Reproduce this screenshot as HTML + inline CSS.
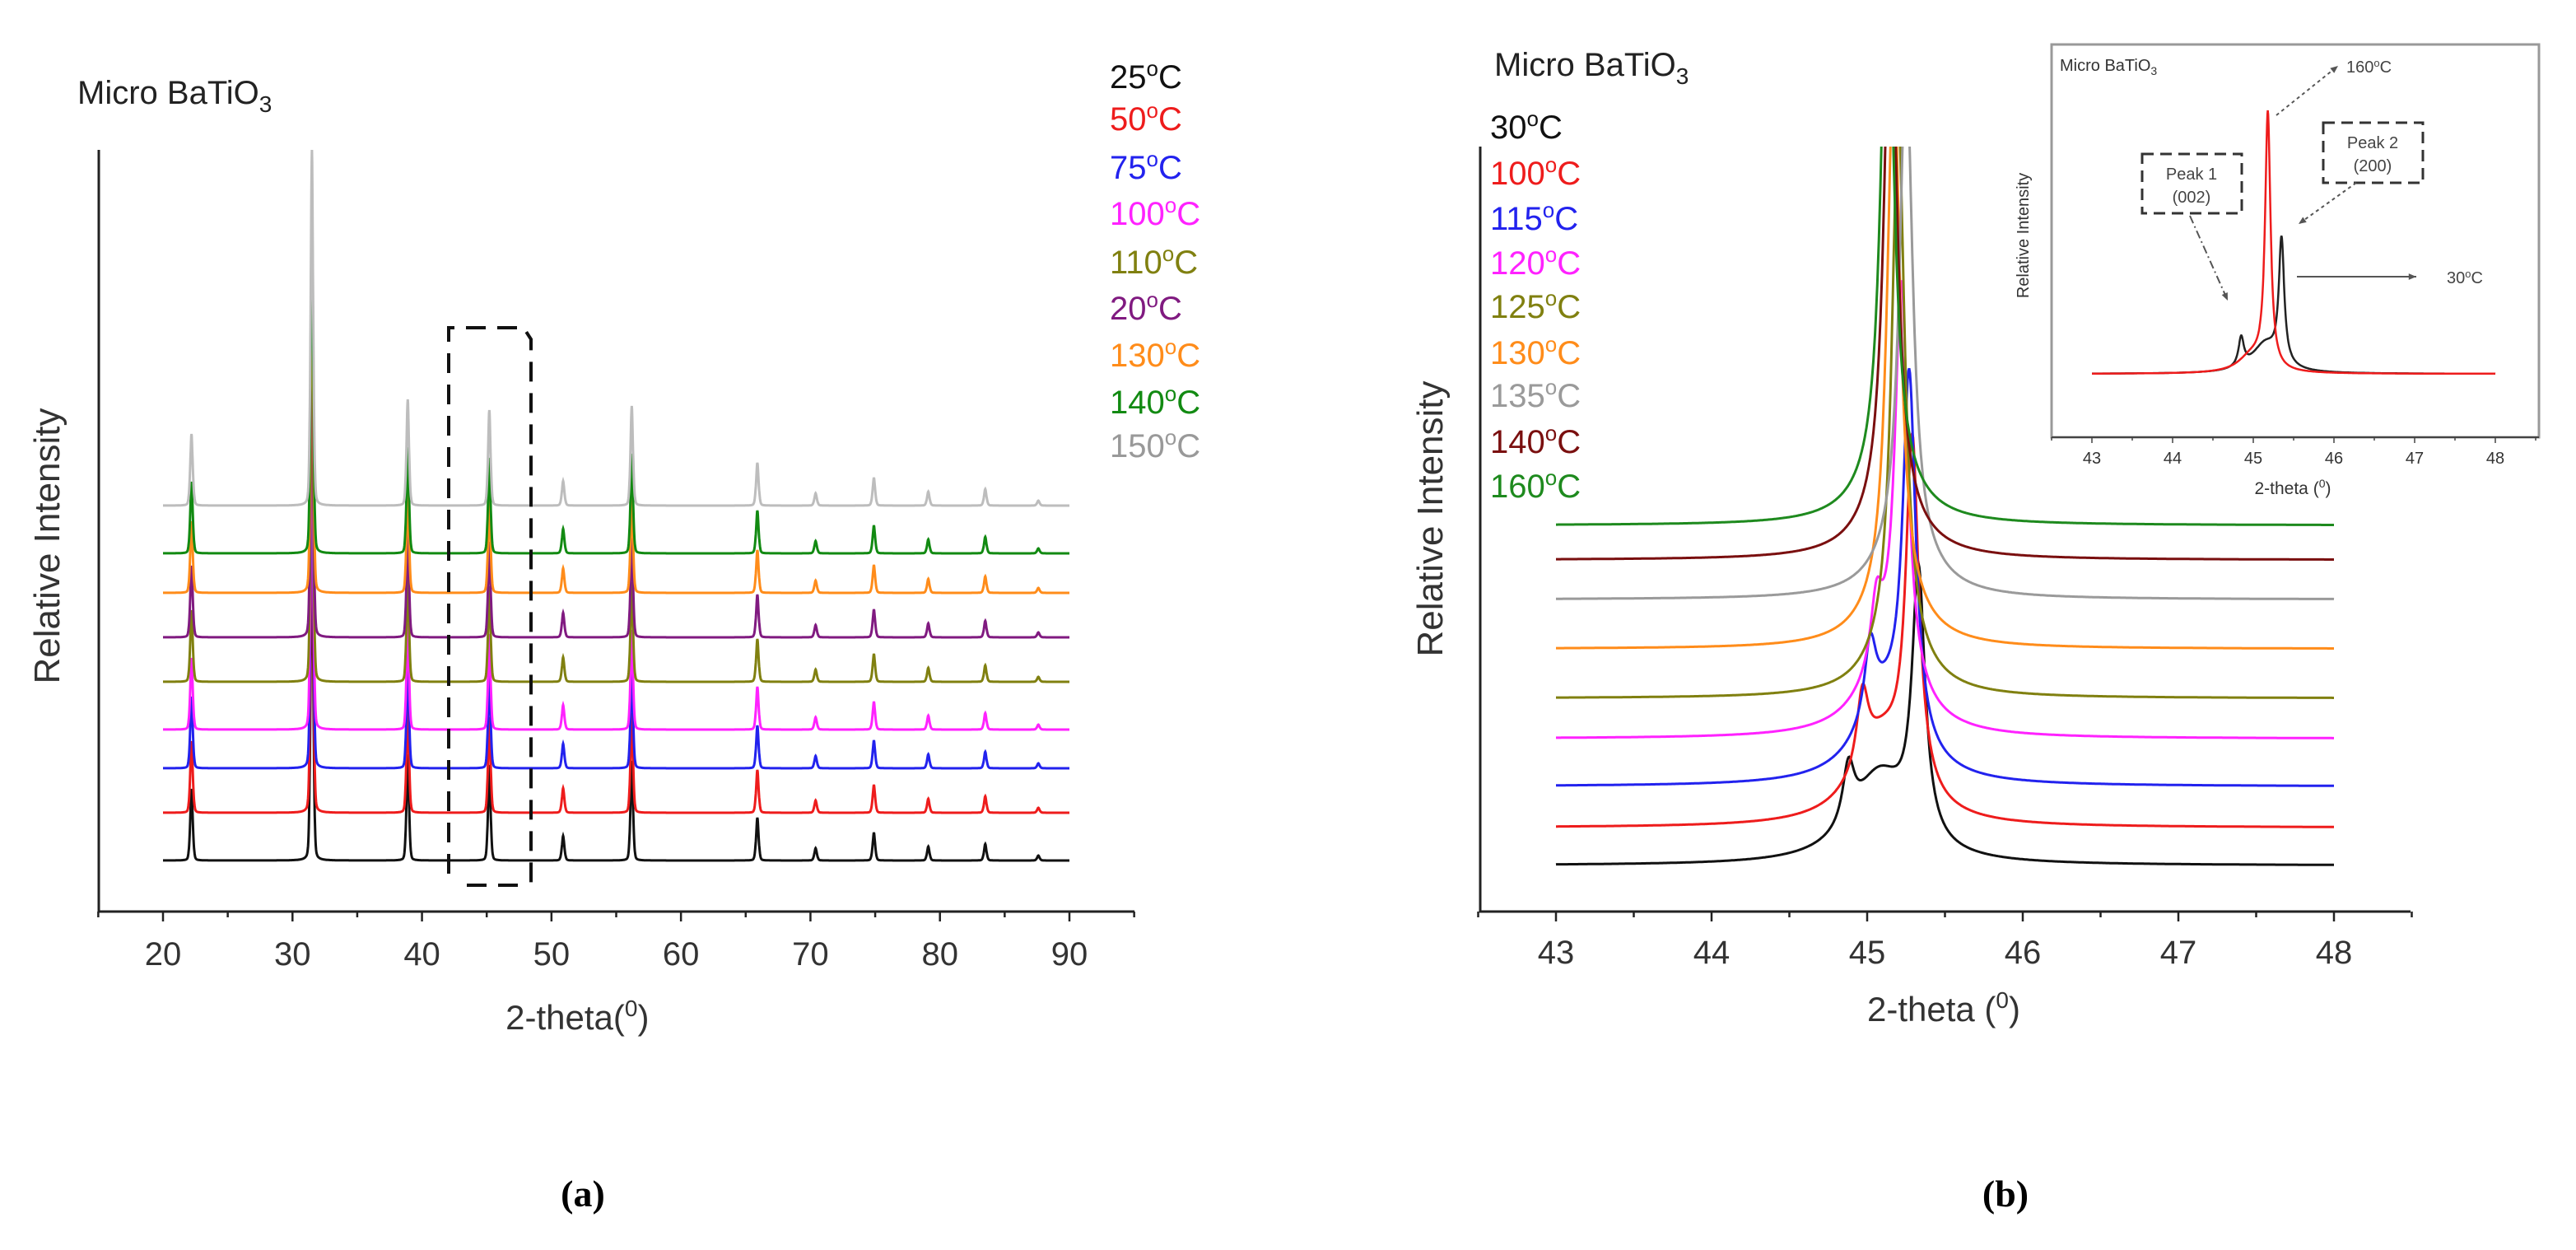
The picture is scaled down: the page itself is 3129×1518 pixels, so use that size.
<!DOCTYPE html>
<html><head><meta charset="utf-8"><style>
html,body{margin:0;padding:0;background:#fff;}
svg{display:block;font-family:"Liberation Sans",Arial,sans-serif;}
</style></head><body>
<svg id="fig" width="3129" height="1518" viewBox="0 0 3129 1518" xmlns="http://www.w3.org/2000/svg">
<defs>
<clipPath id="clipB"><rect x="1798" y="178" width="1140" height="940"/></clipPath>
</defs>
<g id="pa"></g>
<g id="pb"></g>
<g id="pi"></g>
<text x="708" y="1465" font-family="Liberation Serif, serif" font-weight="bold" font-size="46" text-anchor="middle">(a)</text>
<text x="2436" y="1465" font-family="Liberation Serif, serif" font-weight="bold" font-size="46" text-anchor="middle">(b)</text>
</svg>
<script>
// ---------- Panel A data ----------
const aLabels = ["25°C","50°C","75°C","100°C","110°C","20°C","130°C","140°C","150°C"];
const aColors = ["#111","#ee1c1c","#2222ee","#ff22ff","#808010","#801a80","#ff8c1a","#128a12","#bdbdbd"];
const aOffsets = [0, 58, 112, 159, 217, 271, 325, 373, 431];
const aPeakPos = [22.2, 31.5, 38.9, 45.2, 50.9, 56.2, 65.9, 70.4, 74.9, 79.1, 83.5, 87.6];
const aPeakAmp = [87, 432, 129, 116, 30, 121, 52, 15, 34, 17, 20, 6];
const aXTicks = [20,30,40,50,60,70,80,90];
// ---------- Panel B data ----------
const bLabels = ["30°C","100°C","115°C","120°C","125°C","130°C","135°C","140°C","160°C"];
const bColors = ["#111","#ee1c1c","#2222ee","#ff22ff","#808010","#ff8c1a","#9a9a9a","#7a0f0f","#1e8a1e"];
const bOffsets = [0, 46, 96, 154, 203, 263, 323, 371, 413];
const bPeak1Pos = [44.88, 44.97, 45.02, 45.06, 45.2, 45.17, 45.25, 45.15, 45.13];
const bPeak1Amp = [70, 90, 90, 80, 0, 0, 0, 0, 0];
const bPeak2Pos = [45.33, 45.29, 45.27, 45.22, 45.2, 45.17, 45.25, 45.15, 45.13];
const bPeak2Amp = [320, 420, 440, 480, 650, 650, 600, 650, 650];
const bBasePos = [45.08, 45.1, 45.12, 45.14, 45.2, 45.17, 45.25, 45.15, 45.13];
const bBaseAmp = [105, 100, 95, 80, 55, 55, 55, 55, 55];
const bXTicks = [43,44,45,46,47,48];
// ---------- Inset data ----------
const iLabels = ["30°C","160°C"];
const iColors = ["#222","#ee1c1c"];
const iPeak1Pos = [44.85, 45.18];
const iPeak1Amp = [35, 0];
const iPeak2Pos = [45.35, 45.18];
const iPeak2Amp = [150, 310];
const iBaseAmp = [35, 20];
const iXTicks = [43,44,45,46,47,48];

const NS="http://www.w3.org/2000/svg";
function mk(parent,tag,attrs,text){const e=document.createElementNS(NS,tag);for(const k in attrs)e.setAttribute(k,attrs[k]);if(text!==undefined)e.textContent=text;parent.appendChild(e);return e;}
function lor(x,c,w){const d=(x-c)/w;return 1/(1+d*d);}
function gau(x,c,s){const d=(x-c)/s;return Math.exp(-0.5*d*d);}
function pv(x,c,w){return 0.6*gau(x,c,w*0.85)+0.4*lor(x,c,w*0.6);}

// ===== Panel A =====
(function(){
const g=document.getElementById('pa');
const xA=v=>198+(v-20)*(1299-198)/70;
const base0=1045;
const yA=(off,val)=>base0-off-val;
let e=mk(g,'line',{x1:120,y1:182,x2:120,y2:1108,stroke:'#222','stroke-width':3});

e=mk(g,'line',{x1:119,y1:1107,x2:1378,y2:1107,stroke:'#222','stroke-width':3});

for(let v=15;v<=95;v+=5){const x=xA(v);const major=aXTicks.includes(v);
 e=mk(g,'line',{x1:x,y1:1107,x2:x,y2:1107+(major?12:7),stroke:'#222','stroke-width':2.5});
 }
aXTicks.forEach(v=>{e=mk(g,'text',{x:xA(v),y:1172,'font-size':40,'text-anchor':'middle',fill:'#333'},String(v));
 });
e=mk(g,'text',{x:xA(52),y:1250,'font-size':42,'text-anchor':'middle',fill:'#333'});

e.innerHTML='2-theta(<tspan dy="-16" font-size="28">0</tspan><tspan dy="16">)</tspan>';
e=mk(g,'text',{x:0,y:0,'font-size':44,'text-anchor':'middle',fill:'#333',transform:'translate(72,663) rotate(-90)'},'Relative Intensity');

e=mk(g,'text',{x:94,y:126,'font-size':40,fill:'#222'});

e.innerHTML='Micro BaTiO<tspan dy="10" font-size="28">3</tspan>';
aOffsets.forEach((off,i)=>{let d='';
 for(let v=20;v<=90.0001;v+=0.02){let s=0;aPeakPos.forEach((p,k)=>{s+=aPeakAmp[k]*pv(v,p,0.13);});
  d+=(d?'L':'M')+xA(v).toFixed(1)+','+yA(off,s).toFixed(1);}
 const p=mk(g,'path',{d:d,fill:'none',stroke:aColors[i],'stroke-width':3});
 
 
});
e=mk(g,'path',{d:'M545,1061 L545,398 L636,398 L645,412 L645,1075',fill:'none',stroke:'#111','stroke-width':4,'stroke-dasharray':'24,14'});

e=mk(g,'line',{x1:567,y1:1075,x2:636,y2:1075,stroke:'#111','stroke-width':4,'stroke-dasharray':'24,14'});

const ly=[92,143,202,258,317,373,430,487,540];
aLabels.forEach((t,i)=>{e=mk(g,'text',{x:1348,y:ly[i]+15,'font-size':40,fill:aColors[i]==='#bdbdbd'?'#999':aColors[i]});
 
 e.innerHTML=t.replace('°C','')+'<tspan dy="-15" font-size="26">o</tspan><tspan dy="15">C</tspan>';});
})();

// ===== Panel B =====
(function(){
const g=document.getElementById('pb');
const xB=v=>1890+(v-43)*(2835-1890)/5;
const base0=1051;
let e=mk(g,'line',{x1:1798,y1:178,x2:1798,y2:1108,stroke:'#222','stroke-width':3});

e=mk(g,'line',{x1:1797,y1:1107,x2:2928,y2:1107,stroke:'#222','stroke-width':3});

for(let v=42.5;v<=48.5001;v+=0.5){const x=xB(v);const major=Math.abs(v-Math.round(v))<0.01;
 e=mk(g,'line',{x1:x,y1:1107,x2:x,y2:1107+(major?12:7),stroke:'#222','stroke-width':2.5});
 }
bXTicks.forEach(v=>{e=mk(g,'text',{x:xB(v),y:1170,'font-size':40,'text-anchor':'middle',fill:'#333'},String(v));
 });
e=mk(g,'text',{x:2361,y:1240,'font-size':42,'text-anchor':'middle',fill:'#333'});

e.innerHTML='2-theta (<tspan dy="-16" font-size="28">0</tspan><tspan dy="16">)</tspan>';
e=mk(g,'text',{x:0,y:0,'font-size':44,'text-anchor':'middle',fill:'#333',transform:'translate(1752,630) rotate(-90)'},'Relative Intensity');

e=mk(g,'text',{x:1815,y:92,'font-size':40,fill:'#222'});

e.innerHTML='Micro BaTiO<tspan dy="10" font-size="28">3</tspan>';
const cg=mk(g,'g',{'clip-path':'url(#clipB)'});

bOffsets.forEach((off,i)=>{let d='';
 for(let v=43;v<=48.0001;v+=0.005){let s=bPeak1Amp[i]*lor(v,bPeak1Pos[i],0.045)+bPeak2Amp[i]*lor(v,bPeak2Pos[i],0.05)
   +bBaseAmp[i]*lor(v,bBasePos[i],0.22);
  d+=(d?'L':'M')+xB(v).toFixed(1)+','+(base0-off-s).toFixed(1);}
 const p=mk(cg,'path',{d:d,fill:'none',stroke:bColors[i],'stroke-width':3});
 
 
});
const ly=[153,209,264,318,371,427,479,535,589];
bLabels.forEach((t,i)=>{e=mk(g,'text',{x:1810,y:ly[i]+15,'font-size':40,fill:bColors[i]});
 
 e.innerHTML=t.replace('°C','')+'<tspan dy="-15" font-size="26">o</tspan><tspan dy="15">C</tspan>';});
})();

// ===== Inset =====
(function(){
const g=document.getElementById('pi');
const xI=v=>2541+(v-43)*(3031-2541)/5;
const base=454;
let e=mk(g,'rect',{x:2492,y:54,width:592,height:477,fill:'#fff',stroke:'#999','stroke-width':3});

e=mk(g,'line',{x1:2492,y1:531,x2:3084,y2:531,stroke:'#444','stroke-width':2});

for(let v=42.5;v<=48.5001;v+=0.5){const x=xI(v);const major=Math.abs(v-Math.round(v))<0.01;
 e=mk(g,'line',{x1:x,y1:531,x2:x,y2:531+(major?7:4),stroke:'#444','stroke-width':1.5});
 }
iXTicks.forEach(v=>{e=mk(g,'text',{x:xI(v),y:563,'font-size':20,'text-anchor':'middle',fill:'#333'},String(v));
 });
e=mk(g,'text',{x:2785,y:600,'font-size':21,'text-anchor':'middle',fill:'#333'});

e.innerHTML='2-theta (<tspan dy="-8" font-size="14">0</tspan><tspan dy="8">)</tspan>';
e=mk(g,'text',{x:0,y:0,'font-size':20,'text-anchor':'middle',fill:'#333',transform:'translate(2464,286) rotate(-90)'},'Relative Intensity');

e=mk(g,'text',{x:2502,y:86,'font-size':20,fill:'#333'});

e.innerHTML='Micro BaTiO<tspan dy="5" font-size="14">3</tspan>';
iPeak2Amp.forEach((a,i)=>{let d='';
 for(let v=43;v<=48.0001;v+=0.005){const s=iPeak1Amp[i]*lor(v,iPeak1Pos[i],0.04)+a*lor(v,iPeak2Pos[i],0.04)+iBaseAmp[i]*lor(v,iPeak2Pos[i]-0.2,0.2);
  d+=(d?'L':'M')+xI(v).toFixed(1)+','+(base-s).toFixed(1);}
 const p=mk(g,'path',{d:d,fill:'none',stroke:iColors[i],'stroke-width':2.5});
 
 
});
e=mk(g,'rect',{x:2602,y:187,width:121,height:72,fill:'none',stroke:'#333','stroke-width':3,'stroke-dasharray':'14,8'});

e=mk(g,'text',{x:2662,y:218,'font-size':20,'text-anchor':'middle',fill:'#444'},'Peak 1');

e=mk(g,'text',{x:2662,y:246,'font-size':20,'text-anchor':'middle',fill:'#444'},'(002)');

e=mk(g,'rect',{x:2822,y:149,width:121,height:73,fill:'none',stroke:'#333','stroke-width':3,'stroke-dasharray':'14,8'});

e=mk(g,'text',{x:2882,y:180,'font-size':20,'text-anchor':'middle',fill:'#444'},'Peak 2');

e=mk(g,'text',{x:2882,y:208,'font-size':20,'text-anchor':'middle',fill:'#444'},'(200)');

e=mk(g,'text',{x:2850,y:88,'font-size':20,fill:'#444'});

e.innerHTML='160<tspan dy="-7" font-size="13">o</tspan><tspan dy="7">C</tspan>';
e=mk(g,'text',{x:2972,y:344,'font-size':20,fill:'#444'});

e.innerHTML='30<tspan dy="-7" font-size="13">o</tspan><tspan dy="7">C</tspan>';
const arrows=[[2765,140,2840,80,'4,4'],[2660,262,2706,365,'10,4,2,4'],[2862,222,2792,272,'4,4'],[2790,336,2935,336,'none']];
arrows.forEach(a=>{e=mk(g,'line',{x1:a[0],y1:a[1],x2:a[2],y2:a[3],stroke:'#555','stroke-width':2,'stroke-dasharray':a[4]});
 
 const ang=Math.atan2(a[3]-a[1],a[2]-a[0]);const L=10;
 const p=`${a[2]},${a[3]} ${a[2]-L*Math.cos(ang-0.4)},${a[3]-L*Math.sin(ang-0.4)} ${a[2]-L*Math.cos(ang+0.4)},${a[3]-L*Math.sin(ang+0.4)}`;
 e=mk(g,'polygon',{points:p,fill:'#555'});
 });
})();
</script>
</body></html>
